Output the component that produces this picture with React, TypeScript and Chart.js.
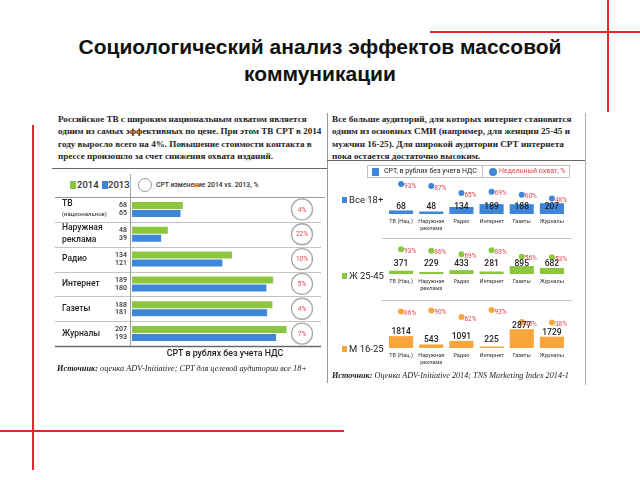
import React, { useEffect, useRef } from "react";
import { Chart, registerables } from "chart.js";

Chart.register(...registerables);

// ---------- DATA ----------
const leftCategories: string[][] = [
  ["ТВ", "(национальное)"],
  ["Наружная", "реклама"],
  ["Радио"],
  ["Интернет"],
  ["Газеты"],
  ["Журналы"],
];
const cpt2014 = [68, 48, 134, 189, 188, 207];
const cpt2013 = [65, 39, 121, 180, 181, 193];
const cptChange = [4, 22, 10, 5, 4, 7];

const rightCategories: string[][] = [
  ["ТВ (Нац.)"],
  ["Наружная", "реклама"],
  ["Радио"],
  ["Интернет"],
  ["Газеты"],
  ["Журналы"],
];
const cptAll = [68, 48, 134, 189, 188, 207];
const reachAll = [93, 87, 65, 69, 60, 48];
const cptW = [371, 229, 433, 281, 895, 682];
const reachW = [93, 86, 69, 88, 56, 53];
const cptM = [1814, 543, 1091, 225, 2877, 1729];
const reachM = [86, 90, 62, 93, 40, 38];

// ---------- STYLE ----------
const GREEN = "#8cc63f";
const BLUE = "#3d86d8";
const ORANGE = "#f8a53c";
const RED = "#e3262b";
const PCT_RED = "#e2474f";
const SANS = "Roboto, 'Liberation Sans', sans-serif";
const SERIF = "'Liberation Serif', 'DejaVu Serif', serif";

function LeftChart() {
  const ref = useRef<HTMLCanvasElement>(null);
  useEffect(() => {
    const labelsPlugin = {
      id: "leftLabels",
      afterDatasetsDraw(chart: any) {
        const ctx = chart.ctx as CanvasRenderingContext2D;
        const area = chart.chartArea;
        const ys = chart.scales.y;
        const n = leftCategories.length;
        const pitch = (area.bottom - area.top) / n;
        ctx.save();
        ctx.strokeStyle = "#c4c4c4";
        ctx.lineWidth = 1;
        for (let i = 1; i < n; i++) {
          const y = Math.round(area.top + i * pitch) + 0.5;
          ctx.beginPath();
          ctx.moveTo(3, y);
          ctx.lineTo(chart.width - 4, y);
          ctx.stroke();
        }
        ctx.strokeStyle = "#6a6a6a";
        ctx.lineWidth = 1.4;
        ctx.beginPath();
        ctx.moveTo(3, Math.round(area.bottom) + 0.5);
        ctx.lineTo(chart.width - 4, Math.round(area.bottom) + 0.5);
        ctx.stroke();
        ctx.strokeStyle = "#a0a0a0";
        ctx.lineWidth = 1;
        ctx.beginPath();
        ctx.moveTo(Math.round(area.left) - 1.5, area.top - 7);
        ctx.lineTo(Math.round(area.left) - 1.5, area.bottom);
        ctx.stroke();
        ctx.fillStyle = "#222";
        ctx.textAlign = "left";
        ctx.textBaseline = "middle";
        leftCategories.forEach((lines, i) => {
          const cy = ys.getPixelForValue(i);
          if (lines.length === 2 && i === 0) {
            ctx.font = `500 8.5px ${SANS}`;
            ctx.fillText(lines[0], 10, cy - 6);
            ctx.font = `6px ${SANS}`;
            ctx.fillText(lines[1], 10, cy + 5);
          } else if (lines.length === 2) {
            ctx.font = `500 8.5px ${SANS}`;
            ctx.fillText(lines[0], 10, cy - 6);
            ctx.fillText(lines[1], 10, cy + 6);
          } else {
            ctx.font = `500 8.5px ${SANS}`;
            ctx.fillText(lines[0], 10, cy);
          }
        });
        ctx.font = `500 7px ${SANS}`;
        ctx.textAlign = "right";
        ctx.fillStyle = "#333";
        [0, 1].forEach((di) => {
          const meta = chart.getDatasetMeta(di);
          const vals = chart.data.datasets[di].data;
          meta.data.forEach((bar: any, i: number) => {
            ctx.fillText(String(vals[i]), area.left - 5, bar.y);
          });
        });
        const cx = area.right + 2;
        ctx.textAlign = "center";
        cptChange.forEach((v, i) => {
          const cy = ys.getPixelForValue(i);
          ctx.beginPath();
          ctx.arc(cx, cy, 10.5, 0, Math.PI * 2);
          ctx.fillStyle = "#fff";
          ctx.fill();
          ctx.strokeStyle = "#a8a8a8";
          ctx.lineWidth = 1.3;
          ctx.stroke();
          ctx.fillStyle = PCT_RED;
          ctx.font = `6.5px ${SANS}`;
          ctx.fillText(`${v}%`, cx, cy + 0.5);
        });
        ctx.restore();
      },
    };
    const chart = new Chart(ref.current as HTMLCanvasElement, {
      type: "bar",
      data: {
        labels: leftCategories.map((l) => l.join(" ")),
        datasets: [
          { label: "2014", data: cpt2014, backgroundColor: GREEN, barPercentage: 0.88, categoryPercentage: 0.64 },
          { label: "2013", data: cpt2013, backgroundColor: BLUE, barPercentage: 0.88, categoryPercentage: 0.64 },
        ],
      },
      options: {
        indexAxis: "y",
        animation: false,
        responsive: false,
        layout: { padding: { left: 80, right: 25, top: 7, bottom: 4 } },
        scales: {
          x: { display: false, min: 0, max: 225 },
          y: { display: false },
        },
        plugins: { legend: { display: false }, tooltip: { enabled: false } },
      },
      plugins: [labelsPlugin],
    } as any);
    return () => chart.destroy();
  }, []);
  return (
    <canvas
      ref={ref}
      width={273}
      height={160}
      style={{ position: "absolute", left: 52, top: 190, width: 273, height: 160 }}
    />
  );
}

type SubProps = {
  cpt: number[];
  reach: number[];
  color: string;
  top: number;
  areaH: number;
  yMax: number;
  y2Min: number;
  y2Max: number;
  labelY: (barTop: number, base: number) => number;
};

function SubChart(p: SubProps) {
  const ref = useRef<HTMLCanvasElement>(null);
  useEffect(() => {
    const plugin = {
      id: "subLabels",
      afterDatasetsDraw(chart: any) {
        const ctx = chart.ctx as CanvasRenderingContext2D;
        const area = chart.chartArea;
        const base = area.bottom;
        ctx.save();
        ctx.font = `500 8.5px ${SANS}`;
        ctx.fillStyle = "#1c1c1c";
        ctx.textAlign = "center";
        ctx.textBaseline = "middle";
        const bars = chart.getDatasetMeta(0).data;
        bars.forEach((bar: any, i: number) => {
          ctx.fillText(String(p.cpt[i]), bar.x, p.labelY(bar.y, base));
        });
        ctx.font = `6.5px ${SANS}`;
        ctx.fillStyle = PCT_RED;
        ctx.textAlign = "left";
        const pts = chart.getDatasetMeta(1).data;
        pts.forEach((pt: any, i: number) => {
          ctx.fillText(`${p.reach[i]}%`, pt.x + 3, pt.y + 2);
        });
        ctx.font = `5.5px ${SANS}`;
        ctx.fillStyle = "#333";
        ctx.textAlign = "center";
        const xs = chart.scales.x;
        rightCategories.forEach((lines, i) => {
          const x = xs.getPixelForValue(i);
          lines.forEach((t, k) => ctx.fillText(t, x, base + 8 + k * 6.5));
        });
        ctx.restore();
      },
    };
    const chart = new Chart(ref.current as HTMLCanvasElement, {
      type: "bar",
      data: {
        labels: rightCategories.map((l) => l.join(" ")),
        datasets: [
          {
            type: "bar",
            data: p.cpt,
            backgroundColor: p.color,
            yAxisID: "y",
            barPercentage: 0.8,
            categoryPercentage: 1,
            order: 2,
          },
          {
            type: "line",
            data: p.reach,
            yAxisID: "y2",
            showLine: false,
            pointRadius: 3,
            pointBackgroundColor: p.color,
            pointBorderWidth: 0,
            borderColor: p.color,
            order: 1,
          },
        ],
      },
      options: {
        animation: false,
        responsive: false,
        layout: { padding: { left: 0, right: 0, top: 0, bottom: 18 } },
        scales: {
          x: { display: false, offset: true },
          y: { display: false, min: 0, max: p.yMax },
          y2: { display: false, min: p.y2Min, max: p.y2Max, position: "right" },
        },
        plugins: { legend: { display: false }, tooltip: { enabled: false } },
      },
      plugins: [plugin],
    } as any);
    return () => chart.destroy();
  }, []);
  const h = p.areaH + 18;
  return (
    <canvas
      ref={ref}
      width={189}
      height={h}
      style={{ position: "absolute", left: 382, top: p.top, width: 189, height: h }}
    />
  );
}

const abs = (s: React.CSSProperties): React.CSSProperties => ({ position: "absolute", ...s });

export default function App() {
  const textStyle: React.CSSProperties = {
    position: "absolute",
    top: 113,
    font: `bold 9.1px ${SERIF}`,
    lineHeight: "12.3px",
    whiteSpace: "nowrap",
    color: "#1e1e1e",
  };
  return (
    <div
      style={{
        position: "absolute",
        left: 0,
        top: 0,
        width: 640,
        height: 480,
        background: "#fff",
        overflow: "hidden",
        fontFamily: SANS,
      }}
    >
      <div
        style={abs({
          left: 0,
          top: 33,
          width: 640,
          textAlign: "center",
          font: "bold 21px 'Liberation Sans', Arial, sans-serif",
          lineHeight: "27px",
          color: "#111",
        })}
      >
        Социологический анализ эффектов массовой
        <br />
        коммуникации
      </div>

      <div style={abs({ left: 430, top: 31, width: 210, height: 2, background: RED })} />
      <div style={abs({ left: 607, top: 0, width: 2, height: 112, background: RED })} />
      <div style={abs({ left: 32, top: 125, width: 2, height: 345, background: RED })} />
      <div style={abs({ left: 0, top: 430, width: 344, height: 2, background: RED })} />

      <div style={abs({ left: 327, top: 113, width: 1, height: 270, background: "#9a9a9a" })} />
      <div style={abs({ left: 585, top: 113, width: 1, height: 272, background: "#b0b0b0" })} />
      <div style={abs({ left: 52, top: 168, width: 275, height: 1, background: "#666" })} />
      <div style={abs({ left: 327, top: 160, width: 258, height: 1, background: "#666" })} />

      <div style={{ ...textStyle, left: 58 }}>
        Российское ТВ с широким национальным охватом является
        <br />
        одним из самых эффективных по цене. При этом ТВ CPT в 2014
        <br />
        году выросло всего на 4%. Повышение стоимости контакта в
        <br />
        прессе произошло за счет снижения охвата изданий.
      </div>

      <div style={{ ...textStyle, left: 332, font: `bold 9.2px ${SERIF}` }}>
        Все больше аудиторий, для которых интернет становится
        <br />
        одним из основных СМИ (например, для женщин 25-45 и
        <br />
        мужчин 16-25). Для широкой аудитории СРТ интернета
        <br />
        пока остается достаточно высоким.
      </div>

      <div style={abs({ left: 55, top: 197, width: 270, height: 1, background: "#999" })} />
      <div style={abs({ left: 130, top: 174, width: 1, height: 23, background: "#aaa" })} />
      <div style={abs({ left: 70, top: 181, width: 6, height: 8, background: GREEN })} />
      <div style={abs({ left: 77, top: 178, font: `500 9.5px ${SANS}`, lineHeight: "14px", color: "#333" })}>2014</div>
      <div style={abs({ left: 102, top: 181, width: 6, height: 8, background: BLUE })} />
      <div style={abs({ left: 108, top: 178, font: `500 9.5px ${SANS}`, lineHeight: "14px", color: "#333" })}>2013</div>
      <div
        style={abs({
          left: 138,
          top: 178,
          width: 12,
          height: 12,
          border: "1.4px solid #999",
          borderRadius: "50%",
        })}
      />
      <div style={abs({ left: 156, top: 180, font: `500 6.8px ${SANS}`, lineHeight: "10px", color: "#333", whiteSpace: "nowrap" })}>
        CPT изменение 2014 vs. 2013, %
      </div>

      <LeftChart />

      <div
        style={abs({
          left: 125,
          top: 347,
          width: 200,
          textAlign: "center",
          font: `500 8.8px ${SANS}`,
          lineHeight: "12px",
          color: "#222",
        })}
      >
        CPT в рублях без учета НДС
      </div>
      <div style={abs({ left: 57, top: 364, font: `italic 8.3px ${SERIF}`, lineHeight: "10px", color: "#222", whiteSpace: "nowrap" })}>
        <b>Источник:</b> оценка ADV-Initiative; CPT для целевой аудитории все 18+
      </div>

      <SubChart cpt={cptAll} reach={reachAll} color={BLUE} top={174} areaH={40} yMax={690} y2Min={0} y2Max={112}
        labelY={(t, b) => b - 7} />
      <SubChart cpt={cptW} reach={reachW} color={GREEN} top={240} areaH={34} yMax={3381} y2Min={-31} y2Max={120}
        labelY={(t, b) => b - 10} />
      <SubChart cpt={cptM} reach={reachM} color={ORANGE} top={302} areaH={46} yMax={6419} y2Min={-74} y2Max={110}
        labelY={(t, b) => Math.max(Math.min(t - 4, b - 8), b - 22)} />

      <div style={abs({ left: 382, top: 238, width: 190, height: 1, background: "#c4c4c4" })} />
      <div style={abs({ left: 382, top: 300, width: 190, height: 1, background: "#c4c4c4" })} />

      <div
        style={abs({
          left: 367,
          top: 165,
          width: 203,
          height: 13,
          border: "1px solid #c0c0c0",
          background: "#fff",
          boxSizing: "border-box",
        })}
      >
        <div style={abs({ left: 4, top: 2, width: 7, height: 8, background: BLUE })} />
        <div style={abs({ left: 16, top: 0, font: `7px ${SANS}`, lineHeight: "11px", color: "#222", whiteSpace: "nowrap" })}>
          CPT, в рублях без учета НДС
        </div>
        <div style={abs({ left: 114, top: 0, width: 1, height: 11, background: "#c0c0c0" })} />
        <div style={abs({ left: 121, top: 1.5, width: 8, height: 8, borderRadius: "50%", background: BLUE })} />
        <div style={abs({ left: 131, top: 0, font: `7px ${SANS}`, lineHeight: "11px", color: PCT_RED, whiteSpace: "nowrap" })}>
          Недельный охват, %
        </div>
      </div>

      <div style={abs({ left: 342, top: 197, width: 5, height: 6, background: BLUE })} />
      <div style={abs({ left: 349, top: 194, font: `9.5px ${SANS}`, lineHeight: "12px", color: "#222", whiteSpace: "nowrap" })}>Все 18+</div>
      <div style={abs({ left: 342, top: 273, width: 5, height: 6, background: GREEN })} />
      <div style={abs({ left: 349, top: 270, font: `9.5px ${SANS}`, lineHeight: "12px", color: "#222", whiteSpace: "nowrap" })}>Ж 25-45</div>
      <div style={abs({ left: 342, top: 346, width: 5, height: 6, background: ORANGE })} />
      <div style={abs({ left: 349, top: 343, font: `9.5px ${SANS}`, lineHeight: "12px", color: "#222", whiteSpace: "nowrap" })}>М 16-25</div>

      <div style={abs({ left: 332, top: 370, font: `italic 8.2px ${SERIF}`, lineHeight: "11px", color: "#222", whiteSpace: "nowrap" })}>
        <b>Источник:</b> Оценка ADV-Initiative 2014; TNS Marketing Index 2014-1
      </div>
    </div>
  );
}
